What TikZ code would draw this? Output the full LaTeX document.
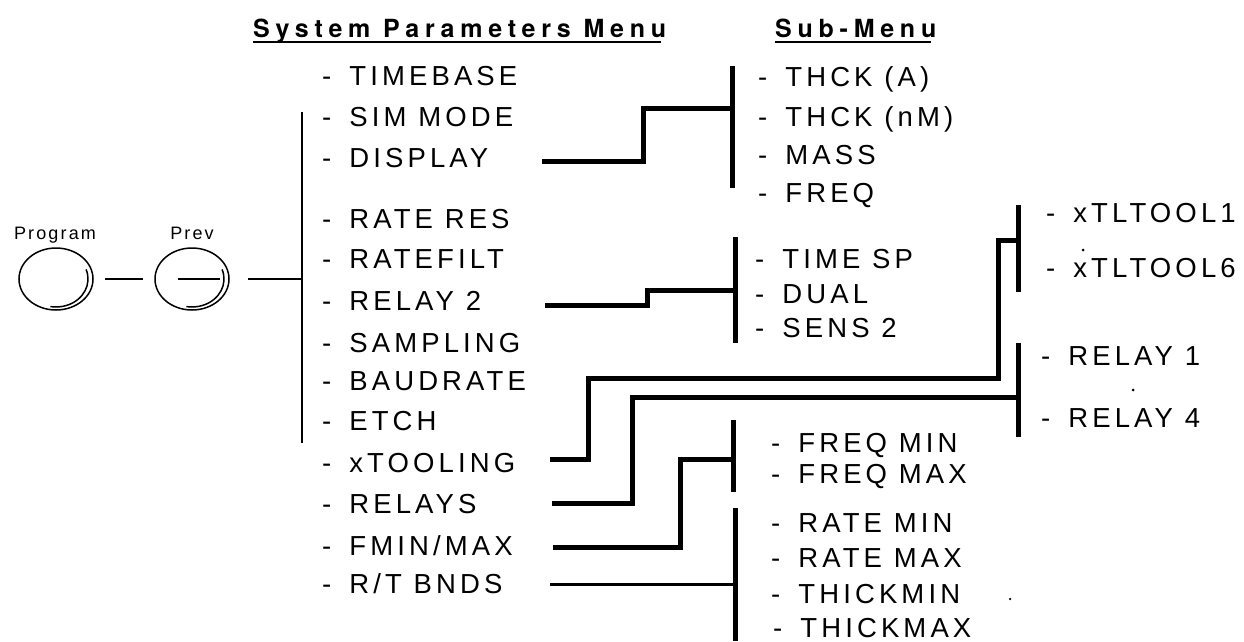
\documentclass[tikz,border=0pt]{standalone}
\usepackage{fontspec}
\usetikzlibrary{shapes.geometric}
\newfontfamily\itemfont[LetterSpace=15]{Liberation Sans}
\newfontfamily\headfont[LetterSpace=23]{TeX Gyre Heros}
\newfontfamily\btnfont[LetterSpace=12]{Liberation Sans}
\tikzset{
  item/.style={anchor=base west, inner sep=0pt, font=\itemfont\fontsize{27.5}{32}\selectfont},
  head/.style={anchor=base west, inner sep=0pt, font=\headfont\bfseries\fontsize{25}{28}\selectfont},
  btn/.style={anchor=base, inner sep=0pt, font=\btnfont\fontsize{18}{22}\selectfont},
  button/.style={draw, ellipse, line width=1.5pt, minimum width=74pt, minimum height=62pt, inner sep=0pt},
  thin/.style={line width=1.5pt},
  trunk/.style={line width=2pt},
  wire/.style={line width=5pt},
  midwire/.style={line width=3pt},
  bar/.style={line width=5pt},
  dot/.style={fill, circle, inner sep=0pt, minimum size=3pt}
}
\newcommand{\dsh}{-\hspace{18pt}}
\begin{document}
\begin{tikzpicture}[x=1pt,y=-1pt]
\path[use as bounding box, fill=white] (0,0) rectangle (1244,641);

% headers
\node[head] (h1) at (253,37) {System Parameters Menu};
\node[head] (h2) at (775,37) {Sub-Menu};
\draw[line width=2pt] ([yshift=-5pt]h1.base west) -- ([yshift=-5pt,xshift=-5pt]h1.base east);
\draw[line width=2pt] ([yshift=-5pt]h2.base west) -- ([yshift=-5pt,xshift=-5pt]h2.base east);

% buttons
\node[btn] (lprog) at (55,239) {Program};
\node[btn] (lprev) at (192,239) {Prev};
\node[button] (prog) at (56,279) {};
\node[button] (prev) at (192,279) {};
\draw[thin] (prog.center) ++(-20:32 and 28) arc[start angle=-20, end angle=100, x radius=32, y radius=28];
\draw[thin] (prev.center) ++(-20:32 and 28) arc[start angle=-20, end angle=100, x radius=32, y radius=28];
\draw[thin] ([xshift=11pt]prog.east) -- ([xshift=-11pt]prev.west);
\draw[thin] ([xshift=-14pt]prev.center) -- ([xshift=28pt]prev.center);

% main trunk
\coordinate (tTop) at (302,112);
\coordinate (tBot) at (302,443);
\coordinate (tIn) at (302,279);
\draw[trunk] (tTop) -- (tBot);
\draw[thin] ([xshift=18pt]prev.east) -- (tIn);

% main menu items
\node[item] (m1) at (322,85) {\dsh TIMEBASE};
\node[item] (m2) at (322,126) {\dsh SIM MODE};
\node[item] (m3) at (322,167) {\dsh DISPLAY};
\node[item] (m4) at (322,228) {\dsh RATE RES};
\node[item] (m5) at (322,268) {\dsh RATEFILT};
\node[item] (m6) at (322,310) {\dsh RELAY 2};
\node[item] (m7) at (322,352) {\dsh SAMPLING};
\node[item] (m8) at (322,390) {\dsh BAUDRATE};
\node[item] (m9) at (322,430) {\dsh ETCH};
\node[item] (m10) at (322,472) {\dsh xTOOLING};
\node[item] (m11) at (322,513) {\dsh RELAYS};
\node[item] (m12) at (322,555) {\dsh FMIN/MAX};
\node[item] (m13) at (322,593) {\dsh R/T BNDS};

% sub-menu: DISPLAY
\node[item] (d1) at (758,86) {\dsh THCK (A)};
\node[item] (d2) at (758,126) {\dsh THCK (nM)};
\node[item] (d3) at (758,164) {\dsh MASS};
\node[item] (d4) at (758,202) {\dsh FREQ};
\coordinate (bDt) at (732,66);
\coordinate (bDb) at (732,188);
\draw[bar] (bDt) -- (bDb);
\coordinate (cD) at (542,161);
\coordinate (jD) at (732,108);
\draw[wire] (cD) -- (643,161) -- (643,108) -- (jD);

% sub-menu: RELAY 2
\node[item] (r1) at (755,268) {\dsh TIME SP};
\node[item] (r2) at (755,303) {\dsh DUAL};
\node[item] (r3) at (755,337) {\dsh SENS 2};
\coordinate (bRt) at (735,237);
\coordinate (bRb) at (735,343);
\draw[bar] (bRt) -- (bRb);
\coordinate (cR) at (545,305);
\coordinate (jR) at (735,290);
\draw[wire] (cR) -- (647,305) -- (647,290) -- (jR);

% sub-menu: xTOOLING
\node[item] (x1) at (1046,222) {\dsh xTLTOOL1};
\node[item] (x2) at (1046,277) {\dsh xTLTOOL6};
\node[dot] (xd) at (1083,250) {};
\coordinate (bXt) at (1018,205);
\coordinate (bXb) at (1018,292);
\draw[bar] (bXt) -- (bXb);
\coordinate (cX) at (550,459);
\coordinate (jX) at (1018,240);
\draw[wire] (cX) -- (588,459) -- (588,378) -- (998,378) -- (998,240) -- (jX);

% sub-menu: RELAYS
\node[item] (y1) at (1041,365) {\dsh RELAY 1};
\node[item] (y2) at (1041,427) {\dsh RELAY 4};
\node[dot] (yd) at (1133,390) {};
\coordinate (bYt) at (1018,343);
\coordinate (bYb) at (1018,437);
\draw[bar] (bYt) -- (bYb);
\coordinate (cY) at (552,503);
\coordinate (jY) at (1018,397);
\draw[wire] (cY) -- (632,503) -- (632,397) -- (jY);

% sub-menu: FMIN/MAX
\node[item] (f1) at (771,452) {\dsh FREQ MIN};
\node[item] (f2) at (771,483) {\dsh FREQ MAX};
\coordinate (bFt) at (733,420);
\coordinate (bFb) at (733,492);
\draw[bar] (bFt) -- (bFb);
\coordinate (cF) at (553,547);
\coordinate (jF) at (733,459);
\draw[wire] (cF) -- (680,547) -- (680,459) -- (jF);

% sub-menu: R/T BNDS
\node[item] (t1) at (771,532) {\dsh RATE MIN};
\node[item] (t2) at (771,567) {\dsh RATE MAX};
\node[item] (t3) at (771,603) {\dsh THICKMIN};
\node[item] (t4) at (773,637) {\dsh THICKMAX};
\node[dot, minimum size=2.5pt] (td) at (1010,599) {};
\coordinate (bTt) at (735,508);
\coordinate (bTb) at (735,641);
\draw[bar] (bTt) -- (bTb);
\coordinate (cT) at (550,584);
\coordinate (jT) at (735,584);
\draw[midwire] (cT) -- (jT);
\end{tikzpicture}
\end{document}
